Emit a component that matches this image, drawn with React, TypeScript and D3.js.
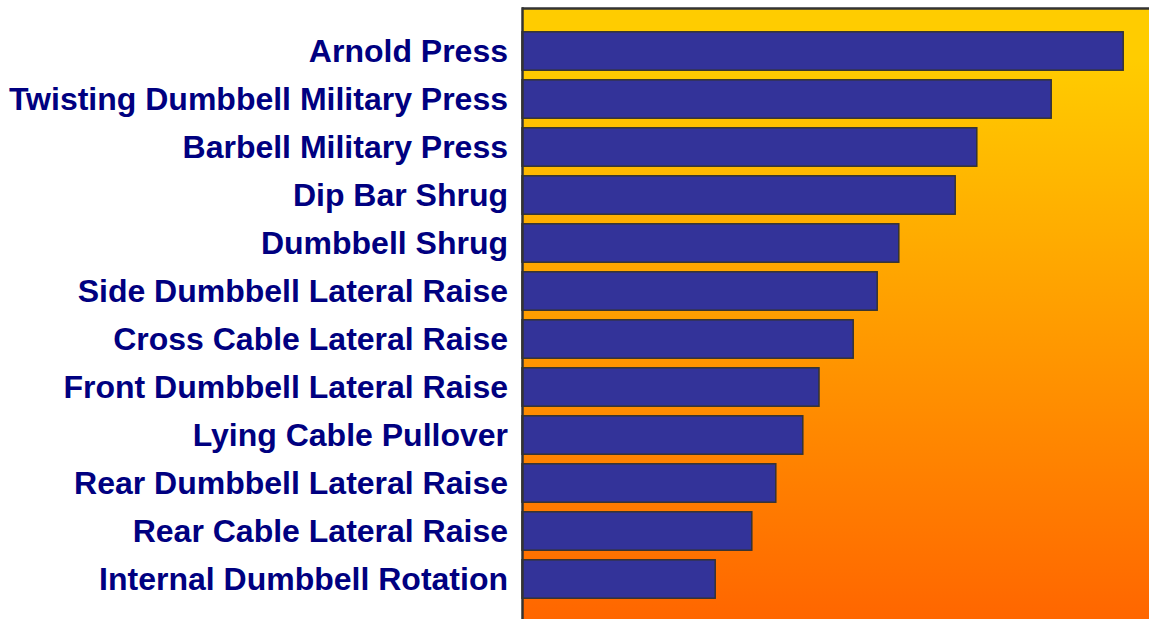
import React from "react";
import * as d3 from "d3";

const categories: string[] = [
  "Arnold Press",
  "Twisting Dumbbell Military Press",
  "Barbell Military Press",
  "Dip Bar Shrug",
  "Dumbbell Shrug",
  "Side Dumbbell Lateral Raise",
  "Cross Cable Lateral Raise",
  "Front Dumbbell Lateral Raise",
  "Lying Cable Pullover",
  "Rear Dumbbell Lateral Raise",
  "Rear Cable Lateral Raise",
  "Internal Dumbbell Rotation",
];

const values: number[] = [100.2, 88.2, 75.8, 72.2, 62.8, 59.2, 55.2, 49.5, 46.8, 42.3, 38.3, 32.2];

const W = 1149;
const H = 619;
const plotLeft = 522;
const plotTop = 8;

export default function App() {
  const y = d3
    .scaleBand<string>()
    .domain(categories)
    .range([27, 603])
    .paddingInner(0.2)
    .paddingOuter(0.1);
  const x = d3.scaleLinear().domain([0, 100]).range([plotLeft, plotLeft + 600]);

  return (
    <div style={{ position: "absolute", left: 0, top: 0 }}>
      <svg width={W} height={H} style={{ display: "block" }}>
        <defs>
          <linearGradient id="bg" gradientUnits="userSpaceOnUse" x1={0} y1={60} x2={0} y2={619}>
            <stop offset="0" stopColor="#FFCC00" />
            <stop offset="1" stopColor="#FF6600" />
          </linearGradient>
        </defs>
        <rect x={plotLeft} y={plotTop} width={W - plotLeft + 10} height={H - plotTop + 10} fill="url(#bg)" />
        {categories.map((c, i) => (
          <rect
            key={c}
            x={x(0)}
            y={y(c)!}
            width={x(values[i]) - x(0)}
            height={y.bandwidth()}
            fill="#333399"
            stroke="#333333"
            strokeWidth={1.5}
          />
        ))}
        <line x1={plotLeft} x2={W} y1={plotTop + 0.5} y2={plotTop + 0.5} stroke="#333333" strokeWidth={2.5} />
        <line x1={plotLeft + 0.5} x2={plotLeft + 0.5} y1={plotTop - 0.75} y2={H} stroke="#333333" strokeWidth={2.5} />
        {categories.map((c) => (
          <text
            key={c}
            x={508}
            y={y(c)! + y.bandwidth() / 2}
            dy="0.34em"
            textAnchor="end"
            fontFamily="Liberation Sans, Arial, sans-serif"
            fontWeight="bold"
            fontSize={32}
            fill="#000080"
          >
            {c}
          </text>
        ))}
      </svg>
    </div>
  );
}
